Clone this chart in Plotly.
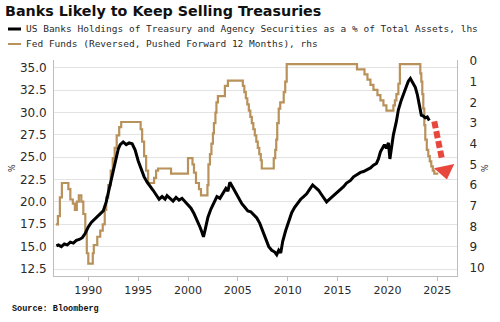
import plotly.graph_objects as go

# ---- data ----
bank_years = [1986.8, 1987.0, 1987.3, 1987.6, 1987.9, 1988.2, 1988.5, 1988.8, 1989.1, 1989.4,
              1989.7, 1990.0, 1990.3, 1990.6, 1990.9, 1991.2, 1991.5, 1991.8, 1992.1, 1992.4,
              1992.7, 1993.0, 1993.2, 1993.5, 1993.8, 1994.1, 1994.4, 1994.7, 1995.0, 1995.3,
              1995.6, 1995.9, 1996.2, 1996.5, 1996.8, 1997.1, 1997.4, 1997.7, 1997.9, 1998.2,
              1998.5, 1998.8, 1999.1, 1999.4, 1999.7, 2000.0, 2000.3, 2000.6, 2000.9, 2001.2,
              2001.4, 2001.55, 2001.7, 2002.0, 2002.3, 2002.6, 2002.9, 2003.2, 2003.5, 2003.8,
              2004.0, 2004.2, 2004.5, 2004.8, 2005.1, 2005.4, 2005.7, 2006.0, 2006.3, 2006.6,
              2006.9, 2007.2, 2007.5, 2007.8, 2008.1, 2008.4, 2008.7, 2008.9, 2009.1, 2009.3,
              2009.5, 2009.8, 2010.1, 2010.4, 2010.7, 2011.0, 2011.3, 2011.6, 2011.9, 2012.2,
              2012.5, 2012.8, 2013.1, 2013.4, 2013.7, 2013.9, 2014.2, 2014.5, 2014.9, 2015.2,
              2015.6, 2015.9, 2016.3, 2016.6, 2016.9, 2017.3, 2017.6, 2017.9, 2018.3, 2018.6,
              2018.9, 2019.1, 2019.3, 2019.5, 2019.7, 2019.9, 2020.1, 2020.25, 2020.35, 2020.6,
              2020.9, 2021.1, 2021.4, 2021.6, 2021.9, 2022.1, 2022.3, 2022.5, 2022.8, 2023.0,
              2023.2, 2023.4, 2023.6, 2023.8, 2024.0, 2024.2]
bank_share = [15.1, 15.2, 15.0, 15.3, 15.2, 15.5, 15.4, 15.7, 15.8, 16.0,
              16.5, 17.2, 17.7, 18.0, 18.3, 18.6, 19.0, 20.0, 21.5, 22.9,
              24.3, 25.9, 26.4, 26.7, 26.4, 26.6, 26.5, 25.8, 24.6, 23.6,
              22.8, 22.2, 21.8, 21.3, 20.8, 20.3, 20.6, 20.3, 20.7, 20.4,
              20.1, 20.5, 20.2, 20.4, 20.0, 19.7, 19.3, 18.7, 18.0, 17.2,
              16.6, 16.1, 16.8, 18.3, 19.2, 20.0, 20.6, 20.4, 21.0, 21.5,
              21.2, 22.2, 21.6, 21.0, 20.5, 19.8, 19.4, 19.0, 18.9, 18.5,
              18.2, 17.6, 16.8, 15.8, 15.0, 14.6, 14.4, 14.1, 14.6, 14.3,
              15.6, 16.8, 17.9, 18.8, 19.4, 19.9, 20.3, 20.6, 20.9, 21.4,
              21.9, 21.6, 21.3, 20.8, 20.3, 20.0, 20.3, 20.6, 20.9, 21.3,
              21.7, 22.1, 22.4, 22.8, 23.0, 23.3, 23.4, 23.6, 23.8, 24.1,
              24.3, 24.8, 25.6, 26.0, 26.4, 26.0, 26.6, 24.8, 25.5, 27.5,
              29.0, 30.3, 31.4, 32.1, 32.9, 33.5, 33.8, 33.4, 32.8, 32.0,
              30.8, 29.7, 29.6, 29.4, 29.5, 29.1]

fed_years = [1986.75, 1986.95, 1987.15, 1987.35, 1988.0, 1988.2, 1988.45, 1988.65, 1988.85, 1989.05,
             1989.3, 1989.5, 1989.7, 1989.85, 1990.0, 1990.45, 1990.55, 1990.9, 1991.2, 1991.45,
             1991.65, 1991.8, 1992.0, 1992.25, 1992.45, 1992.65, 1992.85, 1993.1, 1993.3, 1995.25,
             1995.4, 1995.6, 1995.8, 1996.0, 1996.6, 1996.8, 1997.0, 1998.3, 2000.0, 2000.45,
             2000.6, 2000.8, 2001.1, 2001.3, 2001.95, 2002.05, 2002.2, 2002.35, 2002.5, 2002.6,
             2002.75, 2002.85, 2003.0, 2003.7, 2004.0, 2005.5, 2005.65, 2005.8, 2005.95, 2006.1,
             2006.25, 2006.4, 2006.55, 2006.7, 2006.85, 2007.0, 2007.15, 2007.3, 2007.4, 2008.6,
             2008.75, 2008.85, 2008.95, 2009.1, 2009.25, 2009.6, 2009.75, 2009.9, 2016.95, 2017.7,
             2018.0, 2018.3, 2018.6, 2019.0, 2019.3, 2019.6, 2019.9, 2020.6, 2020.75, 2020.9,
             2021.1, 2021.25, 2023.3, 2023.4, 2023.5, 2023.6, 2023.7, 2023.8, 2023.95, 2024.1,
             2024.25, 2024.4, 2024.55, 2024.7, 2025.1]
fed_funds = [7.9, 7.5, 6.6, 5.9, 6.2, 6.7, 6.9, 7.2, 6.8, 6.5,
             6.8, 7.4, 8.3, 9.3, 9.8, 9.3, 8.9, 8.5, 8.2, 7.9,
             7.2, 6.6, 6.0, 5.3, 4.7, 4.2, 3.6, 3.2, 2.95, 3.3,
             3.9, 4.6, 5.3, 5.9, 5.65, 5.3, 5.2, 5.45, 4.7, 5.0,
             5.4, 5.9, 6.2, 6.5, 6.0, 5.0, 4.5, 4.0, 3.5, 3.0,
             2.5, 2.0, 1.7, 1.2, 0.95, 1.2, 1.5, 1.8, 2.1, 2.4,
             2.7, 3.0, 3.3, 3.6, 3.9, 4.2, 4.5, 4.8, 5.2, 4.7,
             4.3, 3.8, 3.0, 2.3, 2.0, 1.5, 1.0, 0.15, 0.4, 0.65,
             0.9, 1.15, 1.4, 1.65, 1.9, 2.15, 2.4, 2.15, 1.9, 1.6,
             1.1, 0.15, 0.6, 1.0, 1.6, 2.3, 3.1, 3.8, 4.3, 4.6,
             4.85, 5.1, 5.3, 5.45, 5.45]

tick_years = [1990, 1995, 2000, 2005, 2010, 2015, 2020, 2025]
lhs_ticks = [12.5, 15.0, 17.5, 20.0, 22.5, 25.0, 27.5, 30.0, 32.5, 35.0]
rhs_ticks = [0, 1, 2, 3, 4, 5, 6, 7, 8, 9, 10]

arrow_years = [2024.7, 2025.45]
arrow_vals = [29.0, 24.9]
arrow_head_year = [2025.78]
arrow_head_val = [23.5]

BLACK = "#000000"
GOLD = "#b8925a"
RED = "#e8473d"
GRID = "#e3e3e3"
AXIS = "#bdbdbd"
TXT = "#2a2a2a"

fig = go.Figure()
fig.add_trace(go.Scatter(x=fed_years, y=fed_funds, mode="lines", line=dict(color=GOLD, width=2.2, shape="hv"),
                         yaxis="y", showlegend=False, hoverinfo="skip"))
fig.add_trace(go.Scatter(x=bank_years, y=bank_share, mode="lines", line=dict(color=BLACK, width=3),
                         yaxis="y2", showlegend=False, hoverinfo="skip"))
fig.add_trace(go.Scatter(x=arrow_years, y=arrow_vals, mode="lines", line=dict(color=RED, width=6, dash="7px,3px"),
                         yaxis="y2", showlegend=False, hoverinfo="skip"))
fig.add_trace(go.Scatter(x=arrow_head_year, y=arrow_head_val, mode="markers",
                         marker=dict(symbol="triangle-down", size=18, color=RED, angle=-12),
                         yaxis="y2", showlegend=False, hoverinfo="skip"))

font_ticks = dict(family="DejaVu Sans", size=11, color=TXT)

fig.update_layout(
    width=500, height=322,
    margin=dict(l=54, r=43, t=60, b=46),
    paper_bgcolor="white", plot_bgcolor="white",
    title=dict(text="<b>Banks Likely to Keep Selling Treasuries</b>", x=0.01, xref="container", xanchor="left",
               y=1 - 11 / 322, yref="container", yanchor="middle",
               font=dict(family="DejaVu Sans", size=14.3, color="#111111")),
    xaxis=dict(range=[1986.56, 2026.98], tickvals=tick_years, ticktext=[str(t) for t in tick_years],
               showgrid=False, zeroline=False, showline=True, linecolor=AXIS, linewidth=1,
               ticks="outside", ticklen=4, tickcolor=AXIS, tickfont=font_ticks),
    yaxis=dict(range=[10.40, -0.05], side="right", tickvals=rhs_ticks, showgrid=False, zeroline=False,
               showline=True, linecolor=AXIS, linewidth=1, ticks="", ticklabelstandoff=9,
               tickfont=dict(family="DejaVu Sans", size=12, color=TXT)),
    yaxis2=dict(range=[11.72, 35.86], side="left", overlaying="y", tickvals=lhs_ticks,
                tickformat=".1f", showgrid=True, gridcolor=GRID, gridwidth=1, zeroline=False,
                showline=True, linecolor=AXIS, linewidth=1, ticks="", ticklabelstandoff=4,
                tickfont=dict(family="DejaVu Sans", size=12, color=TXT)),
)

mono = dict(family="DejaVu Sans Mono", size=9.5, color=TXT)
W, H = 403.0, 216.0
def px(x):
    return (x - 54) / W
def py(y):
    return (276 - y) / H

legend_rows = [
    ("US Banks Holdings of Treasury and Agency Securities as a % of Total Assets, lhs", BLACK, 3, 29),
    ("Fed Funds (Reversed, Pushed Forward 12 Months), rhs", GOLD, 2, 44),
]
for text, color, width, ypix in legend_rows:
    fig.add_shape(type="line", xref="paper", yref="paper", x0=px(8), x1=px(21), y0=py(ypix), y1=py(ypix),
                  line=dict(color=color, width=width))
    fig.add_annotation(text=text, xref="paper", yref="paper", x=px(24), y=py(ypix), xanchor="left",
                       yanchor="middle", showarrow=False, font=mono)

fig.add_annotation(text="<b>Source: Bloomberg</b>", xref="paper", yref="paper", x=px(10), y=py(309),
                   xanchor="left", yanchor="middle", showarrow=False,
                   font=dict(family="Liberation Mono", size=8.5, color="#111111"))
fig.add_annotation(text="%", xref="paper", yref="paper", x=px(12), y=py(168), textangle=-90,
                   xanchor="center", yanchor="middle", showarrow=False,
                   font=dict(family="DejaVu Sans", size=8, color=TXT))
fig.add_annotation(text="%", xref="paper", yref="paper", x=px(485), y=py(168), textangle=-90,
                   xanchor="center", yanchor="middle", showarrow=False,
                   font=dict(family="DejaVu Sans", size=8, color=TXT))

fig.write_html("out.html")
